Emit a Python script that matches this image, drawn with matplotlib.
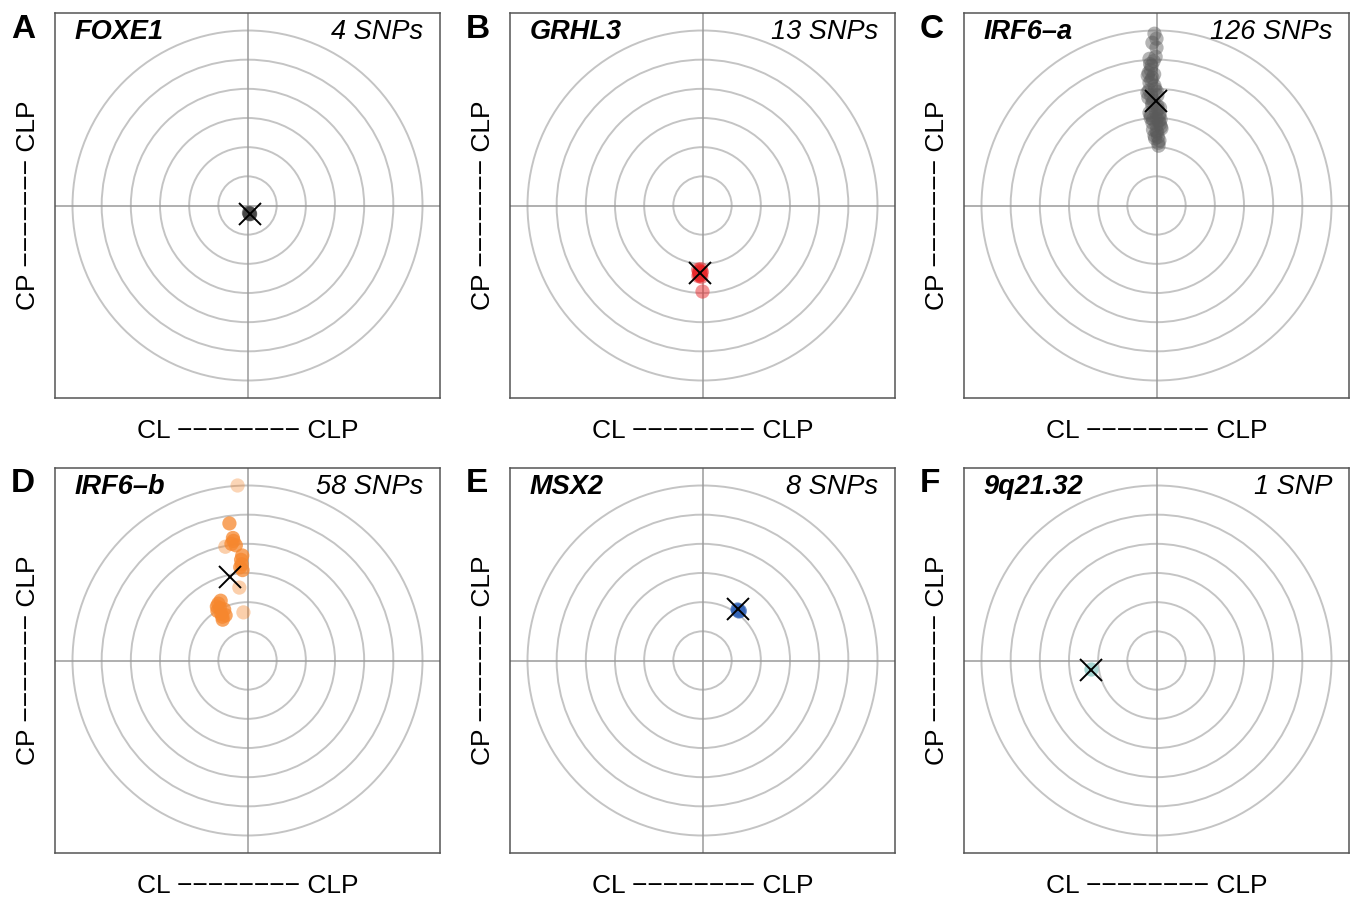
import matplotlib
matplotlib.use("Agg")
import matplotlib.pyplot as plt
from matplotlib.patches import Circle

plt.rcParams['font.family'] = ['Liberation Sans', 'DejaVu Sans']

panel_letters = ["A", "B", "C", "D", "E", "F"]
gene_names = ["FOXE1", "GRHL3", "IRF6\u2013a", "IRF6\u2013b", "MSX2", "9q21.32"]
snp_labels = ["4 SNPs", "13 SNPs", "126 SNPs", "58 SNPs", "8 SNPs", "1 SNP"]
colors = ["#444444", "#e8282b", "#5a5a5a", "#f6872e", "#3566b8", "#9fd3cf"]
x_label = "CL " + "\u2212" * 8 + " CLP"
y_label = "CP " + "\u2212" * 7 + " CLP"

# SNP positions (x: CL <-> CLP, y: CP <-> CLP)
a_x = [0.05, 0.08, 0.07, 0.09]
a_y = [-0.25, -0.30, -0.27, -0.29]

b_x = [-0.15, -0.10, -0.05, -0.12, -0.08, -0.02, -0.14, -0.06, -0.10, -0.04, -0.11, -0.07, 0.0]
b_y = [-2.20, -2.25, -2.30, -2.35, -2.40, -2.28, -2.42, -2.18, -2.32, -2.45, -2.27, -2.38, -2.95]

c_x = [-0.07, 0.0, -0.14, 0.0, -0.24, -0.17, -0.27, -0.14, -0.24, -0.07, -0.31, 0.03,
       -0.14, 0.03, -0.24, 0.10, 0.0, -0.14, 0.0, 0.17, 0.03, -0.07, 0.10, 0.07,
       -0.10, -0.20, -0.18, -0.05, -0.28, -0.10, 0.05, -0.20, -0.02, 0.08, -0.12, 0.12,
       -0.05, 0.02, -0.15, 0.06, -0.22, -0.30, 0.12, 0.15, -0.18, 0.0, -0.08, 0.10,
       -0.25, 0.05, -0.12, -0.03, 0.14, -0.20]
c_y = [5.89, 5.72, 5.58, 5.41, 5.03, 4.79, 4.55, 4.38, 4.21, 4.11, 3.87, 3.77,
       3.53, 3.42, 3.18, 3.08, 2.98, 2.84, 2.74, 2.64, 2.50, 2.40, 2.23, 2.05,
       4.95, 4.65, 4.30, 4.00, 3.70, 3.60, 3.30, 3.00, 3.20, 2.90, 2.60, 2.80,
       2.30, 3.90, 3.45, 2.15, 4.85, 4.45, 3.35, 2.70, 3.75, 2.55, 4.50, 3.15,
       3.95, 2.35, 2.95, 5.10, 2.95, 3.10]

d_x = [-0.34, -0.62, -0.48, -0.76, -0.40, -0.20, -0.17, -0.28, -1.00, -1.03, -0.86, -0.14,
       -0.95, -0.90, -0.80, -0.50, -0.55, -0.22, -0.25, -1.05, -0.92, -0.75, -0.85, -0.18]
d_y = [6.00, 4.70, 4.10, 3.90, 3.95, 3.30, 3.10, 2.50, 1.95, 1.70, 1.50, 1.65,
       1.80, 1.60, 1.75, 4.20, 4.00, 3.45, 3.20, 1.85, 2.05, 1.55, 1.40, 3.60]
d_alpha = [0.35, 0.75, 0.75, 0.4, 0.75, 0.75, 0.75, 0.4, 0.75, 0.75, 0.75, 0.4,
           0.75, 0.75, 0.75, 0.75, 0.75, 0.75, 0.75, 0.75, 0.75, 0.75, 0.75, 0.75]

e_x = [1.22, 1.25, 1.20, 1.28]
e_y = [1.72, 1.68, 1.75, 1.70]

f_x = [-2.23]
f_y = [-0.31]

points_x = [a_x, b_x, c_x, d_x, e_x, f_x]
points_y = [a_y, b_y, c_y, d_y, e_y, f_y]
alphas = [[0.6] * len(a_x), [0.5] * len(b_x), [0.45] * len(c_x), d_alpha, [0.7] * len(e_x), [0.9]]

# mean position (cross)
mean_x = [0.07, -0.10, -0.03, -0.59, 1.20, -2.23]
mean_y = [-0.28, -2.33, 3.60, 2.86, 1.75, -0.31]

ring_radii = [1, 2, 3, 4, 5, 6]
lim = 6.6

W, H = 1355, 899
fig = plt.figure(figsize=(W / 100, H / 100), dpi=100)

col_left = [55, 510, 964]
row_top = [13, 468]
size = 385

for i in range(6):
    r, c = divmod(i, 3)
    left = col_left[c] / W
    bottom = 1 - (row_top[r] + size) / H
    ax = fig.add_axes([left, bottom, size / W, size / H])
    ax.set_xlim(-lim, lim)
    ax.set_ylim(-lim, lim)
    ax.set_aspect('equal')
    for rad in ring_radii:
        ax.add_patch(Circle((0, 0), rad, fill=False, ec="#c4c4c4", lw=1.4, zorder=1))
    ax.axhline(0, color="#9a9a9a", lw=1.1, zorder=1)
    ax.axvline(0, color="#9a9a9a", lw=1.1, zorder=1)
    ax.scatter(points_x[i], points_y[i], s=105, c=colors[i], alpha=alphas[i],
               edgecolors='none', zorder=3)
    ax.plot([mean_x[i]], [mean_y[i]], marker='x', color='black', ms=16, mew=1.4,
            ls='none', zorder=4)
    ax.set_xticks([])
    ax.set_yticks([])
    for sp in ax.spines.values():
        sp.set_color("#555555")
        sp.set_linewidth(1.1)
    ax.text(0.05, 0.95, gene_names[i], transform=ax.transAxes, fontsize=19.5,
            fontweight='bold', fontstyle='italic', ha='left', va='center')
    ax.text(0.957, 0.95, snp_labels[i], transform=ax.transAxes, fontsize=19.5,
            fontstyle='italic', ha='right', va='center')
    ax.set_xlabel(x_label, fontsize=19, labelpad=15)
    ax.set_ylabel(y_label, fontsize=19, labelpad=11)
    fig.text((col_left[c] - 44) / W, 1 - (row_top[r] + 16) / H, panel_letters[i],
             fontsize=24, fontweight='bold', ha='left', va='center')

fig.savefig("out.png", dpi=100, facecolor='white')
